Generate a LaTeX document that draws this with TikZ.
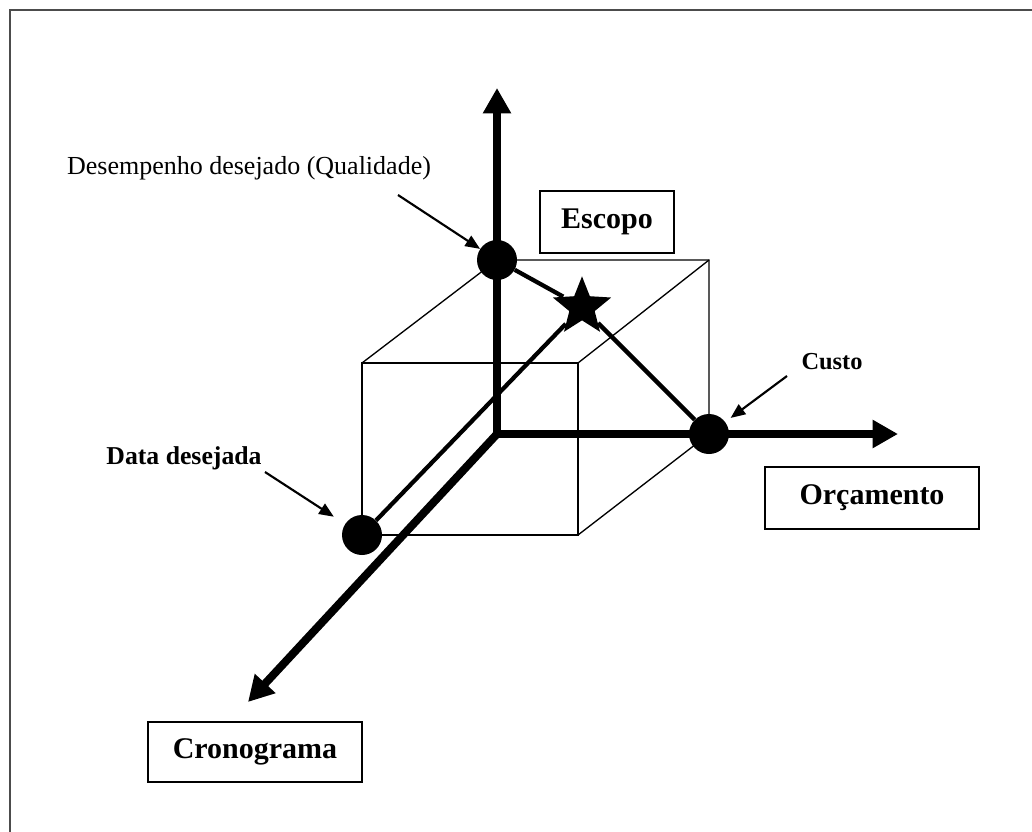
\documentclass[tikz,border=0pt]{standalone}
\usepackage{fontspec}
\setmainfont{Liberation Serif}
\usetikzlibrary{arrows.meta,shapes.geometric}

\begin{document}
\begin{tikzpicture}[x=0.75pt, y=-0.75pt]
    \tikzset{dot/.style={circle, fill, inner sep=0pt, minimum size=30pt},
             axis/.style={line width=6pt, >={Triangle[length=19pt, width=20pt]}},
             cube edge/.style={line width=1pt},
             link/.style={line width=3.2pt},
             pointer/.style={line width=1.6pt, -{Triangle[length=11pt, width=9pt]}},
             title box/.style={draw, line width=1.5pt, minimum height=47pt, font=\fontsize{22.5}{27}\selectfont\bfseries}}
    \useasboundingbox (0,0) rectangle (1032,832);
    \draw[line width=1.8pt, black!70] (10,832) -- (10,10) -- (1032,10);
    % corners of the cube and ends of the axes
    \coordinate (o) at (497,434);
    \coordinate (btl) at (497,260);
    \coordinate (btr) at (709,260);
    \coordinate (bbr) at (709,434);
    \coordinate (ftl) at (362,363);
    \coordinate (ftr) at (578,363);
    \coordinate (fbr) at (578,535);
    \coordinate (fbl) at (362,535);
    \coordinate (top) at (497,88);
    \coordinate (right) at (898,434);
    \coordinate (down) at (248,702);
    \draw[cube edge] (ftl) -- (ftr) -- (fbr) -- (fbl) -- cycle;
    \draw[cube edge] (ftl) -- (btl) -- (btr) -- (bbr) -- (fbr);
    \draw[cube edge] (btr) -- (ftr);
    \draw[axis, <->] (top) -- (o) -- (right);
    \draw[axis, ->] (o) -- (down);
    \node[dot] (qualidade) at (btl) {};
    \node[dot] (custo) at (bbr) {};
    \node[dot] (data) at (fbl) {};
    \node[star, star points=5, star point ratio=2.3, fill, inner sep=0pt, minimum size=46pt] (alvo) at (582,307) {};
    \draw[link] (qualidade) -- (alvo) -- (custo);
    \draw[link] (data) -- (alvo);
    \node[title box, minimum width=101pt] (escopo) at (607,222) {Escopo};
    \node[title box, minimum width=160pt] (orcamento) at (872,498) {Orçamento};
    \node[title box, minimum width=160pt, minimum height=45pt] (cronograma) at (255,752) {Cronograma};
    \node[font=\fontsize{19.5}{23}\selectfont] (desempenho) at (249,168) {Desempenho desejado (Qualidade)};
    \node[font=\fontsize{18.3}{22}\selectfont\bfseries] (custolabel) at (832,362) {Custo};
    \node[font=\fontsize{19.3}{23}\selectfont\bfseries] (datalabel) at (184,458) {Data desejada};
    \coordinate (qp) at (398,195);
    \coordinate (cp) at (787,376);
    \coordinate (dp) at (265,472);
    \draw[pointer] (qp) -- (qualidade);
    \draw[pointer, shorten >=5pt] (cp) -- (custo);
    \draw[pointer, shorten >=10pt] (dp) -- (data);
\end{tikzpicture}
\end{document}
